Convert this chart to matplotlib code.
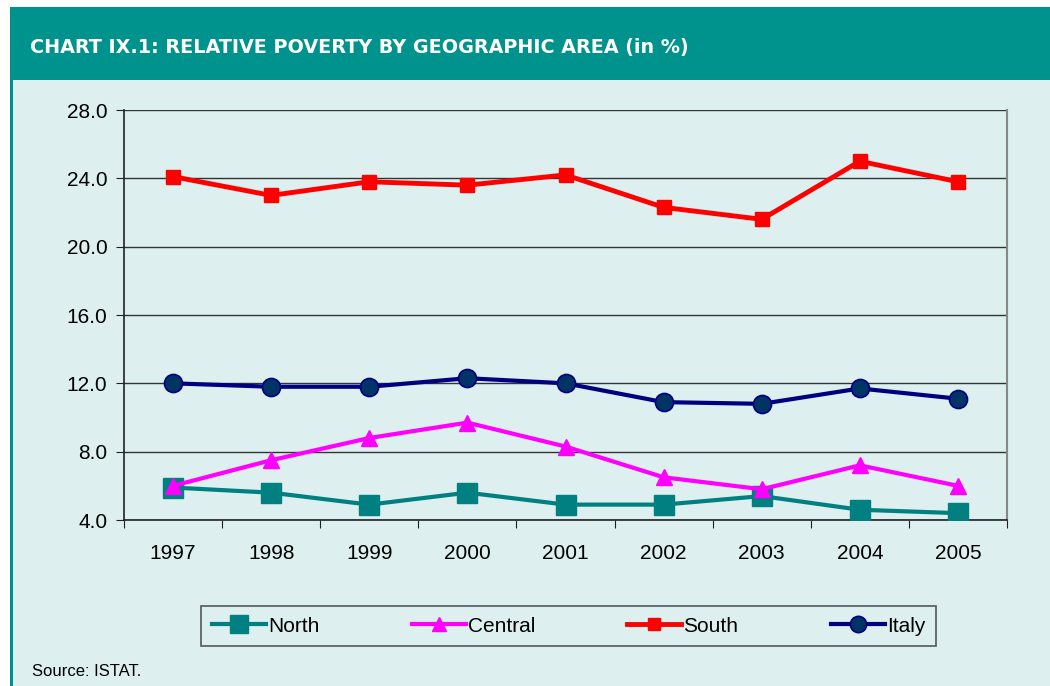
import numpy as np
import matplotlib
matplotlib.use("Agg")
import matplotlib.pyplot as plt
from matplotlib.patches import Rectangle

years = ["1997", "1998", "1999", "2000", "2001", "2002", "2003", "2004", "2005"]
north = [5.9, 5.6, 4.9, 5.6, 4.9, 4.9, 5.4, 4.6, 4.4]
central = [6.0, 7.5, 8.8, 9.7, 8.3, 6.5, 5.8, 7.2, 6.0]
south = [24.1, 23.0, 23.8, 23.6, 24.2, 22.3, 21.6, 25.0, 23.8]
italy = [12.0, 11.8, 11.8, 12.3, 12.0, 10.9, 10.8, 11.7, 11.1]
yticks = [4.0, 8.0, 12.0, 16.0, 20.0, 24.0, 28.0]

bg = "#ddefef"
band = "#00938e"

plt.rcParams['font.family'] = ['Liberation Sans', 'DejaVu Sans']

W, H = 1050, 686
fig = plt.figure(figsize=(W/100, H/100), dpi=100)
fig.patch.set_facecolor("white")

# background panels (behind the axes)
fig.patches.append(Rectangle((10/W, 0), 1, 1 - 80/H, transform=fig.transFigure,
                             facecolor=bg, edgecolor="none", zorder=-3))
fig.patches.append(Rectangle((10/W, 1 - 80/H), 1, 73/H, transform=fig.transFigure,
                             facecolor=band, edgecolor="none", zorder=-3))
fig.patches.append(Rectangle((10/W, 0), 3/W, 1 - 80/H, transform=fig.transFigure,
                             facecolor=band, edgecolor="none", zorder=-2))
fig.text(30/W, 1 - 47/H, "CHART IX.1: RELATIVE POVERTY BY GEOGRAPHIC AREA (in %)",
         color="white", fontsize=13.8, fontweight="bold", va="center", ha="left",
         family="DejaVu Sans")

ax = fig.add_axes([124/W, 1 - 520/H, (1007-124)/W, (520-110)/H])
ax.set_facecolor(bg)
x = np.arange(len(years))

ax.plot(x, north, color="#008080", lw=3, marker="s", ms=14, label="North", zorder=3)
ax.plot(x, central, color="#ff00ff", lw=3, marker="^", ms=11, label="Central", zorder=4)
ax.plot(x, south, color="#ff0000", lw=3.5, marker="s", ms=10, label="South", zorder=3)
ax.plot(x, italy, color="#000080", lw=3, marker="o", ms=13, mfc="#003366", mec="#000080",
        mew=1.2, label="Italy", zorder=3)

ax.set_ylim(4, 28)
ax.set_yticks(yticks)
ax.set_yticklabels(["%.1f" % v for v in yticks], fontsize=15)
ax.yaxis.grid(True, color="#333333", lw=1)
ax.set_axisbelow(True)

ax.set_xlim(-0.5, len(years) - 0.5)
ax.set_xticks(np.arange(len(years) + 1) - 0.5)
ax.set_xticklabels([])
ax.set_xticks(x, minor=True)
ax.set_xticklabels(years, minor=True, fontsize=15)
ax.tick_params(axis="x", which="minor", length=0, pad=17)
ax.tick_params(axis="x", which="major", length=6, direction="out", color="#222222")
ax.tick_params(axis="y", length=6, direction="out", color="#222222", pad=6)

for s in ["left", "bottom"]:
    ax.spines[s].set_color("#222222")
    ax.spines[s].set_linewidth(1.2)
ax.spines["top"].set_visible(False)
ax.spines["right"].set_color("#888888")
ax.spines["right"].set_linewidth(1.5)

leg = fig.legend(loc="center", bbox_to_anchor=(191/W, 1 - 647/H, (946-191)/W, 42/H),
                 ncol=4, mode="expand", fontsize=15, frameon=True, fancybox=False,
                 handlelength=2.6, handletextpad=0.1, borderpad=0.5, markerscale=0.9)
leg.get_frame().set_edgecolor("#333333")
leg.get_frame().set_facecolor(bg)
leg.get_frame().set_linewidth(1.2)

fig.text(32/W, 1 - 672/H, "Source: ISTAT.", fontsize=12, va="center", ha="left")

fig.savefig("out.png", dpi=100, facecolor=fig.get_facecolor())
